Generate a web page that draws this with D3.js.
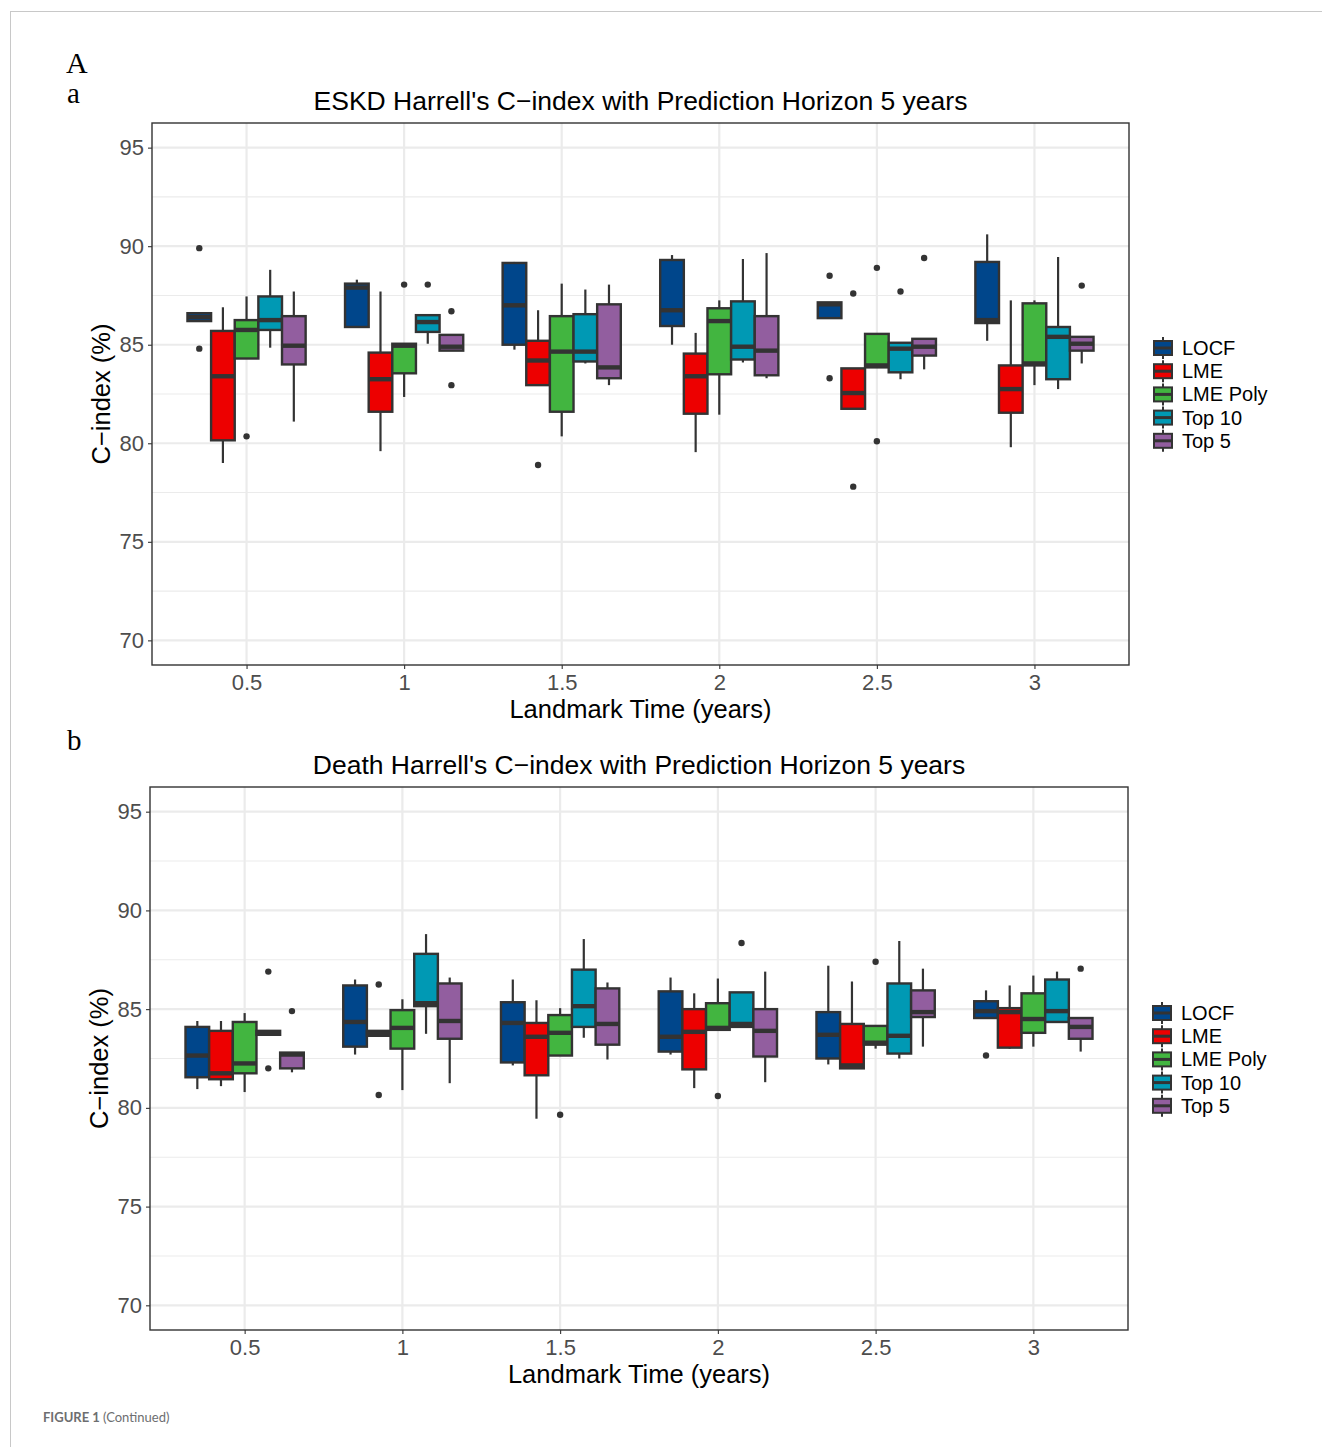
<!DOCTYPE html>
<html>
<head>
<meta charset="utf-8">
<script src="https://cdn.jsdelivr.net/npm/d3@7"></script>
<style>
  body { margin: 0; background: #fff; }
  text { font-family: "Liberation Sans", Arial, sans-serif; }
</style>
</head>
<body>
<div id="chart"></div>
<script>
// categories
var landmarks = ["0.5", "1", "1.5", "2", "2.5", "3"];
var methods = ["LOCF", "LME", "LME Poly", "Top 10", "Top 5"];
var methodColors = ["#00468B", "#ED0000", "#42B540", "#0099B4", "#925E9F"];
var yTicks = [70, 75, 80, 85, 90, 95];

// ESKD: per landmark, per method -> [whisker low, q1, median, q3, whisker high]
var eskdStats = [
  [[86.2, 86.2, 86.4, 86.6, 86.6], [79.0, 80.15, 83.4, 85.7, 86.9], [84.3, 84.3, 85.75, 86.25, 87.45], [84.85, 85.75, 86.25, 87.45, 88.8], [81.1, 84.0, 84.95, 86.45, 87.7]],
  [[85.9, 85.9, 87.9, 88.1, 88.3], [79.6, 81.6, 83.25, 84.6, 87.7], [82.35, 83.55, 84.95, 85.05, 85.05], [85.05, 85.65, 86.15, 86.5, 86.5], [84.7, 84.7, 84.9, 85.5, 85.5]],
  [[84.75, 85.0, 87.0, 89.15, 89.2], [82.95, 82.95, 84.2, 85.2, 86.75], [80.35, 81.6, 84.65, 86.45, 88.1], [84.05, 84.15, 84.65, 86.55, 87.8], [82.95, 83.3, 83.85, 87.05, 88.05]],
  [[85.0, 85.95, 86.75, 89.3, 89.55], [79.55, 81.5, 83.4, 84.55, 85.6], [81.45, 83.5, 86.2, 86.85, 87.25], [84.1, 84.25, 84.9, 87.2, 89.35], [83.3, 83.45, 84.7, 86.45, 89.65]],
  [[86.35, 86.35, 87.05, 87.15, 87.15], [81.75, 81.75, 82.55, 83.8, 83.8], [83.85, 83.85, 83.95, 85.55, 85.55], [83.25, 83.6, 84.8, 85.1, 85.1], [83.75, 84.45, 84.9, 85.3, 85.3]],
  [[85.2, 86.1, 86.25, 89.2, 90.6], [79.8, 81.55, 82.75, 83.95, 87.25], [82.95, 83.95, 84.05, 87.1, 87.25], [82.75, 83.25, 85.4, 85.9, 89.45], [84.05, 84.7, 85.05, 85.4, 85.4]]
];
var eskdOutliers = [
  [[89.9, 84.8], [], [80.35], [], []],
  [[], [], [88.05], [88.05], [86.7, 82.95]],
  [[], [78.9], [], [], []],
  [[], [], [], [], []],
  [[88.5, 83.3], [87.6, 77.8], [88.9, 80.1], [87.7], [89.4]],
  [[], [], [], [], [88.0]]
];

// Death
var deathStats = [
  [[80.95, 81.55, 82.65, 84.1, 84.4], [81.1, 81.45, 81.75, 83.9, 84.4], [80.8, 81.75, 82.25, 84.35, 84.8], [83.7, 83.7, 83.8, 83.9, 83.9], [81.8, 82.0, 82.7, 82.8, 82.8]],
  [[82.7, 83.1, 84.35, 86.2, 86.5], [83.65, 83.65, 83.75, 83.9, 83.9], [80.9, 83.0, 84.05, 84.95, 85.5], [83.75, 85.15, 85.3, 87.8, 88.8], [81.25, 83.5, 84.4, 86.3, 86.6]],
  [[82.15, 82.3, 84.3, 85.35, 86.5], [79.45, 81.65, 83.6, 84.3, 85.45], [82.65, 82.65, 83.8, 84.7, 85.05], [83.55, 84.1, 85.15, 87.0, 88.55], [82.45, 83.2, 84.25, 86.05, 86.35]],
  [[82.7, 82.85, 83.6, 85.9, 86.6], [81.0, 81.95, 83.85, 85.0, 85.8], [83.95, 83.95, 84.05, 85.3, 86.55], [84.1, 84.1, 84.25, 85.85, 85.85], [81.3, 82.6, 83.9, 85.0, 86.9]],
  [[82.2, 82.5, 83.7, 84.85, 87.2], [82.0, 82.0, 82.15, 84.25, 86.4], [83.0, 83.2, 83.3, 84.15, 84.15], [82.5, 82.75, 83.65, 86.3, 88.45], [83.1, 84.6, 84.85, 85.95, 87.05]],
  [[84.55, 84.55, 84.9, 85.4, 85.95], [83.0, 83.05, 84.85, 85.05, 86.2], [83.1, 83.8, 84.5, 85.8, 86.7], [84.35, 84.35, 84.9, 86.5, 86.9], [82.85, 83.5, 84.1, 84.55, 84.55]]
];
var deathOutliers = [
  [[], [], [], [86.9, 82.0], [84.9]],
  [[], [86.25, 80.65], [], [], []],
  [[], [], [79.65], [], []],
  [[], [], [80.6], [88.35], []],
  [[], [], [87.4], [], []],
  [[82.65], [], [], [], [87.05]]
];

var svg = d3.select("#chart").append("svg")
  .attr("width", 1322)
  .attr("height", 1447);

// page frame
svg.append("line").attr("x1", 10).attr("x2", 1322).attr("y1", 11.5).attr("y2", 11.5)
  .attr("stroke", "#c8c8c8").attr("stroke-width", 1);
svg.append("line").attr("x1", 10.5).attr("x2", 10.5).attr("y1", 11).attr("y2", 1447)
  .attr("stroke", "#c8c8c8").attr("stroke-width", 1);

svg.append("text").attr("x", 66).attr("y", 73)
  .style("font-family", "'Liberation Serif', serif").style("font-size", "30px").text("A");
svg.append("text").attr("x", 67).attr("y", 103)
  .style("font-family", "'Liberation Serif', serif").style("font-size", "29px").text("a");
svg.append("text").attr("x", 67).attr("y", 750)
  .style("font-family", "'Liberation Serif', serif").style("font-size", "29px").text("b");

var foot = svg.append("text").attr("x", 43).attr("y", 1422)
  .style("font-family", "Lato, sans-serif").style("font-size", "13px").attr("fill", "#6d6e70");
foot.append("tspan").style("font-weight", "bold").text("FIGURE 1 ");
foot.append("tspan").text("(Continued)");

function drawPanel(cfg) {
  var width = cfg.right - cfg.left;
  var height = cfg.bottom - cfg.top;
  var g = svg.append("g").attr("transform", `translate(${cfg.left}, ${cfg.top})`);

  // discrete x with ggplot-style 0.6 expansion
  var x = d3.scaleLinear().domain([-0.6, landmarks.length - 1 + 0.6]).range([0, width]);
  var y = d3.scaleLinear().domain([68.75, 96.25]).range([height, 0]);
  var step = x(1) - x(0);
  var boxW = step * 0.75 / methods.length;

  // grid
  var minor = d3.range(72.5, 96, 5);
  g.selectAll(".minor").data(minor).enter().append("line")
    .attr("x1", 0).attr("x2", width)
    .attr("y1", d => y(d)).attr("y2", d => y(d))
    .attr("stroke", "#ebebeb").attr("stroke-width", 1.1);
  g.selectAll(".major").data(yTicks).enter().append("line")
    .attr("x1", 0).attr("x2", width)
    .attr("y1", d => y(d)).attr("y2", d => y(d))
    .attr("stroke", "#ebebeb").attr("stroke-width", 2.2);
  g.selectAll(".vmajor").data(landmarks).enter().append("line")
    .attr("x1", (d, i) => x(i)).attr("x2", (d, i) => x(i))
    .attr("y1", 0).attr("y2", height)
    .attr("stroke", "#ebebeb").attr("stroke-width", 2.2);

  // boxes
  cfg.stats.forEach(function(group, gi) {
    group.forEach(function(s, mi) {
      var cx = x(gi) + (mi - 2) * boxW;
      var bg = g.append("g");
      bg.append("line").attr("x1", cx).attr("x2", cx)
        .attr("y1", y(s[4])).attr("y2", y(s[3]))
        .attr("stroke", "#333333").attr("stroke-width", 2.2);
      bg.append("line").attr("x1", cx).attr("x2", cx)
        .attr("y1", y(s[1])).attr("y2", y(s[0]))
        .attr("stroke", "#333333").attr("stroke-width", 2.2);
      bg.append("rect")
        .attr("x", cx - boxW / 2).attr("width", boxW)
        .attr("y", y(s[3])).attr("height", Math.max(0.5, y(s[1]) - y(s[3])))
        .attr("fill", methodColors[mi])
        .attr("stroke", "#333333").attr("stroke-width", 2.4);
      bg.append("line").attr("x1", cx - boxW / 2).attr("x2", cx + boxW / 2)
        .attr("y1", y(s[2])).attr("y2", y(s[2]))
        .attr("stroke", "#333333").attr("stroke-width", 4.4);
      cfg.outliers[gi][mi].forEach(function(o) {
        bg.append("circle").attr("cx", cx).attr("cy", y(o)).attr("r", 3.2)
          .attr("fill", "#333333");
      });
    });
  });

  // border
  g.append("rect").attr("x", 0).attr("y", 0).attr("width", width).attr("height", height)
    .attr("fill", "none").attr("stroke", "#333333").attr("stroke-width", 1.4);

  // axes
  var yAxis = g.append("g").call(d3.axisLeft(y).tickValues(yTicks).tickSize(4).tickPadding(4));
  var xAxis = g.append("g").attr("transform", `translate(0, ${height})`)
    .call(d3.axisBottom(x).tickValues(d3.range(landmarks.length)).tickFormat(i => landmarks[i]).tickSize(4).tickPadding(5));
  [xAxis, yAxis].forEach(function(a) {
    a.select(".domain").remove();
    a.selectAll(".tick line").attr("stroke", "#333333").attr("stroke-width", 1.1);
    a.selectAll(".tick text").attr("fill", "#4d4d4d")
      .style("font-family", "'Liberation Sans', Arial, sans-serif").style("font-size", "22px");
  });

  g.append("text").attr("x", width / 2).attr("y", -13).attr("text-anchor", "middle")
    .style("font-size", "26.5px").attr("fill", "#000").text(cfg.title);
  g.append("text").attr("x", width / 2).attr("y", height + 53).attr("text-anchor", "middle")
    .style("font-size", "25.5px").attr("fill", "#000").text("Landmark Time (years)");
  g.append("text").attr("transform", `translate(-42, ${y(82.5)}) rotate(-90)`)
    .attr("text-anchor", "middle").style("font-size", "25.5px").attr("fill", "#000")
    .text("C\u2212index (%)");

  // legend
  var lg = svg.append("g").attr("transform", `translate(${cfg.legendX}, ${cfg.legendY})`);
  methods.forEach(function(m, i) {
    var row = lg.append("g").attr("transform", `translate(0, ${i * 23.2})`);
    row.append("line").attr("x1", 10).attr("x2", 10).attr("y1", -11).attr("y2", 11)
      .attr("stroke", "#333333").attr("stroke-width", 2);
    row.append("rect").attr("x", 1).attr("y", -7).attr("width", 18).attr("height", 14)
      .attr("fill", methodColors[i]).attr("stroke", "#333333").attr("stroke-width", 2);
    row.append("line").attr("x1", 1).attr("x2", 19).attr("y1", 0).attr("y2", 0)
      .attr("stroke", "#333333").attr("stroke-width", 3);
    row.append("text").attr("x", 29).attr("y", 0).attr("dy", "0.35em")
      .style("font-size", "20px").attr("fill", "#000").text(m);
  });
}

drawPanel({
  title: "ESKD Harrell's C\u2212index with Prediction Horizon 5 years",
  left: 152, right: 1129, top: 123, bottom: 665,
  stats: eskdStats, outliers: eskdOutliers,
  legendX: 1153, legendY: 348
});

drawPanel({
  title: "Death Harrell's C\u2212index with Prediction Horizon 5 years",
  left: 150, right: 1128, top: 787, bottom: 1330,
  stats: deathStats, outliers: deathOutliers,
  legendX: 1152, legendY: 1013
});
</script>
</body>
</html>
